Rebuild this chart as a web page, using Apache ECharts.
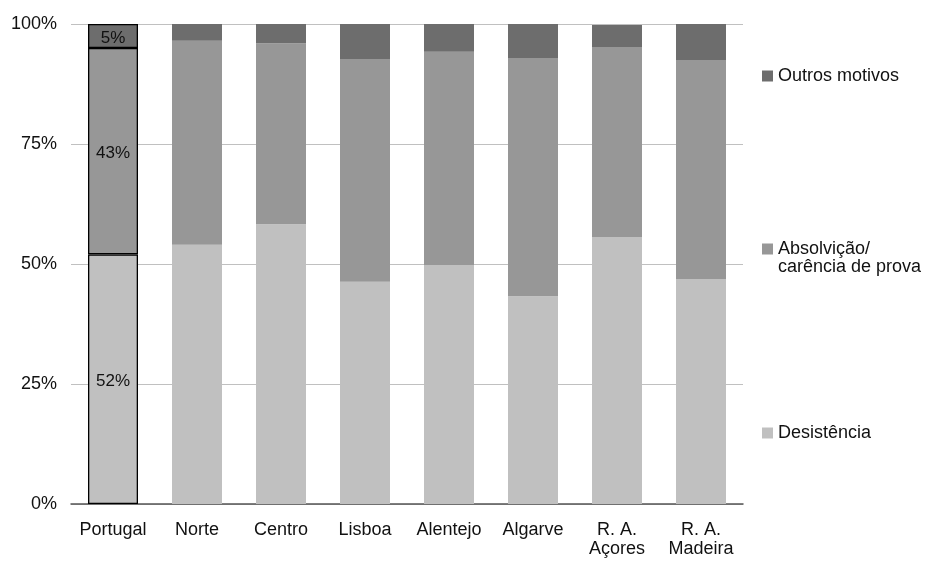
<!DOCTYPE html>
<html><head><meta charset="utf-8">
<script src="https://cdn.jsdelivr.net/npm/echarts@6/dist/echarts.min.js"></script>
<style>html,body{margin:0;padding:0;background:#fff}#c{width:927px;height:561px}</style>
</head><body><div id="c"></div>
<script>
var categories = ['Portugal','Norte','Centro','Lisboa','Alentejo','Algarve','R. A.\nAçores','R. A.\nMadeira'];
var desistencia = [52, 54.0, 58.3, 46.3, 49.8, 43.3, 55.6, 46.9];
var absolvicao = [43, 42.5, 37.7, 46.4, 44.4, 49.6, 39.6, 45.6];
var outros = [5, 3.5, 4.0, 7.3, 5.8, 7.1, 4.6, 7.5];
var seriesNames = ['Desistência', 'Absolvição/ carência de prova', 'Outros motivos'];
var absolvLines = ['Absolvição/', 'carência de prova'];
var colors = ['#c0c0c0', '#979797', '#6d6d6d'];
var yTicks = [0, 25, 50, 75, 100];

var FONT = 'Liberation Sans';
var FS = 18;

function mk(vals, i) {
  return {
    name: seriesNames[i], type: 'bar', stack: 'total', barWidth: 50,
    itemStyle: { color: colors[i] },
    data: vals.map(function (v, k) {
      if (k === 0) {
        return { value: v,
          itemStyle: { borderColor: '#000', borderWidth: 1.3 },
          label: { show: true, position: 'inside', offset: [0, 2], formatter: v + '%', color: '#111', fontFamily: FONT, fontSize: 17 } };
      }
      return v;
    })
  };
}

var chart = echarts.init(document.getElementById('c'), null, { renderer: 'canvas' });
chart.setOption({
  animation: false,
  grid: { left: 71, right: 184, top: 24, bottom: 57, containLabel: false },
  xAxis: {
    type: 'category', data: categories,
    axisLine: { lineStyle: { color: '#555', width: 1.5 } },
    axisTick: { show: false },
    axisLabel: { color: '#111', fontFamily: FONT, fontSize: FS, margin: 17, lineHeight: 19, interval: 0 }
  },
  yAxis: {
    type: 'value', min: 0, max: 100, interval: 25,
    axisLine: { show: false }, axisTick: { show: false },
    splitLine: { lineStyle: { color: '#c0c0c0', width: 1 } },
    axisLabel: { color: '#111', fontFamily: FONT, fontSize: FS, margin: 14,
      formatter: function (v) { return yTicks.indexOf(v) >= 0 ? v + '%' : ''; } }
  },
  legend: [
    { data: [seriesNames[2]], left: 762, top: 66, orient: 'vertical', padding: 0,
      itemWidth: 11, itemHeight: 11, icon: 'rect',
      textStyle: { color: '#111', fontFamily: FONT, fontSize: FS, lineHeight: 20 } },
    { data: [seriesNames[1]], left: 762, top: 239, orient: 'vertical', padding: 0,
      itemWidth: 11, itemHeight: 11, icon: 'rect',
      formatter: function () { return absolvLines[0]; },
      textStyle: { color: '#111', fontFamily: FONT, fontSize: FS, lineHeight: 20 } },
    { data: [seriesNames[0]], left: 762, top: 423, orient: 'vertical', padding: 0,
      itemWidth: 11, itemHeight: 11, icon: 'rect',
      textStyle: { color: '#111', fontFamily: FONT, fontSize: FS, lineHeight: 20 } }
  ],
  graphic: [
    { type: 'text', left: 778, top: 258,
      style: { text: absolvLines[1], fill: '#111', font: FS + 'px "' + FONT + '"' } }
  ],
  series: [mk(desistencia, 0), mk(absolvicao, 1), mk(outros, 2)]
});
</script></body></html>
